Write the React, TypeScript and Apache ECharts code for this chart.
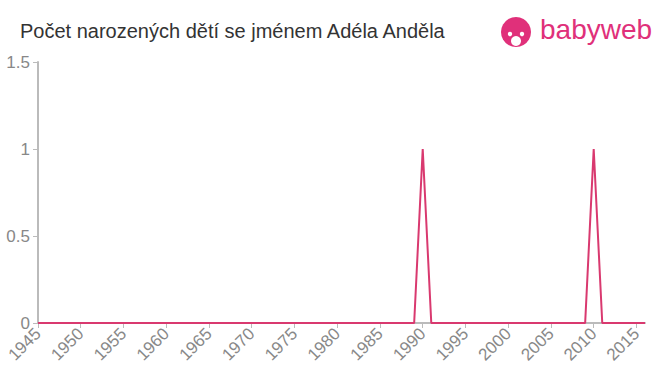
import React, { useEffect, useRef } from "react";
import * as echarts from "echarts";

const years: string[] = [];
for (let y = 1945; y <= 2016; y++) years.push(String(y));
const spikeYears = ["1990", "2010"];
const counts: number[] = years.map((y) => (spikeYears.includes(y) ? 1 : 0));
const yTicks = [0, 0.5, 1, 1.5];
const title = "Počet narozených dětí se jménem Adéla Anděla";

export default function App() {
  const ref = useRef<HTMLDivElement>(null);
  useEffect(() => {
    const chart = echarts.init(ref.current!, null, { renderer: "svg" });
    chart.setOption({
      animation: false,
      title: {
        text: title,
        left: 15,
        top: 16,
        textStyle: { fontFamily: "Liberation Sans, Arial, sans-serif", fontSize: 20, fontWeight: "normal", color: "#333" },
      },
      graphic: [
        { type: "circle", shape: { cx: 516, cy: 32, r: 15 }, style: { fill: "#e0307a" } },
        { type: "circle", shape: { cx: 516, cy: 41, r: 5 }, style: { fill: "#fff" } },
        { type: "circle", shape: { cx: 510, cy: 34, r: 2.2 }, style: { fill: "#fff" } },
        { type: "circle", shape: { cx: 522, cy: 34, r: 2.2 }, style: { fill: "#fff" } },
        {
          type: "text",
          left: 540,
          top: 15,
          style: { text: "babyweb", fill: "#e0307a", font: "28px 'Liberation Sans', Arial, sans-serif" },
        },
      ],
      grid: { left: 38, right: 15, top: 62, bottom: 52 },
      xAxis: {
        type: "category",
        data: years,
        boundaryGap: false,
        axisLine: { lineStyle: { color: "#bbb", width: 2 } },
        axisTick: { interval: 4, length: 5, lineStyle: { color: "#bbb" } },
        axisLabel: {
          interval: 4,
          rotate: 45,
          color: "#888",
          fontSize: 17,
          fontFamily: "Liberation Sans, Arial, sans-serif",
          margin: 8,
        },
      },
      yAxis: {
        type: "value",
        min: yTicks[0],
        max: yTicks[yTicks.length - 1],
        interval: 0.5,
        splitLine: { show: false },
        axisLine: { show: true, lineStyle: { color: "#bbb", width: 2 } },
        axisTick: { show: true, length: 5, lineStyle: { color: "#bbb" } },
        axisLabel: { color: "#888", fontSize: 17, fontFamily: "Liberation Sans, Arial, sans-serif", margin: 8 },
      },
      series: [
        {
          type: "line",
          data: counts,
          symbol: "none",
          lineStyle: { color: "#d9396f", width: 2 },
        },
      ],
    });
    return () => chart.dispose();
  }, []);
  return <div ref={ref} style={{ width: 660, height: 375, position: "absolute", left: 0, top: 0 }} />;
}
